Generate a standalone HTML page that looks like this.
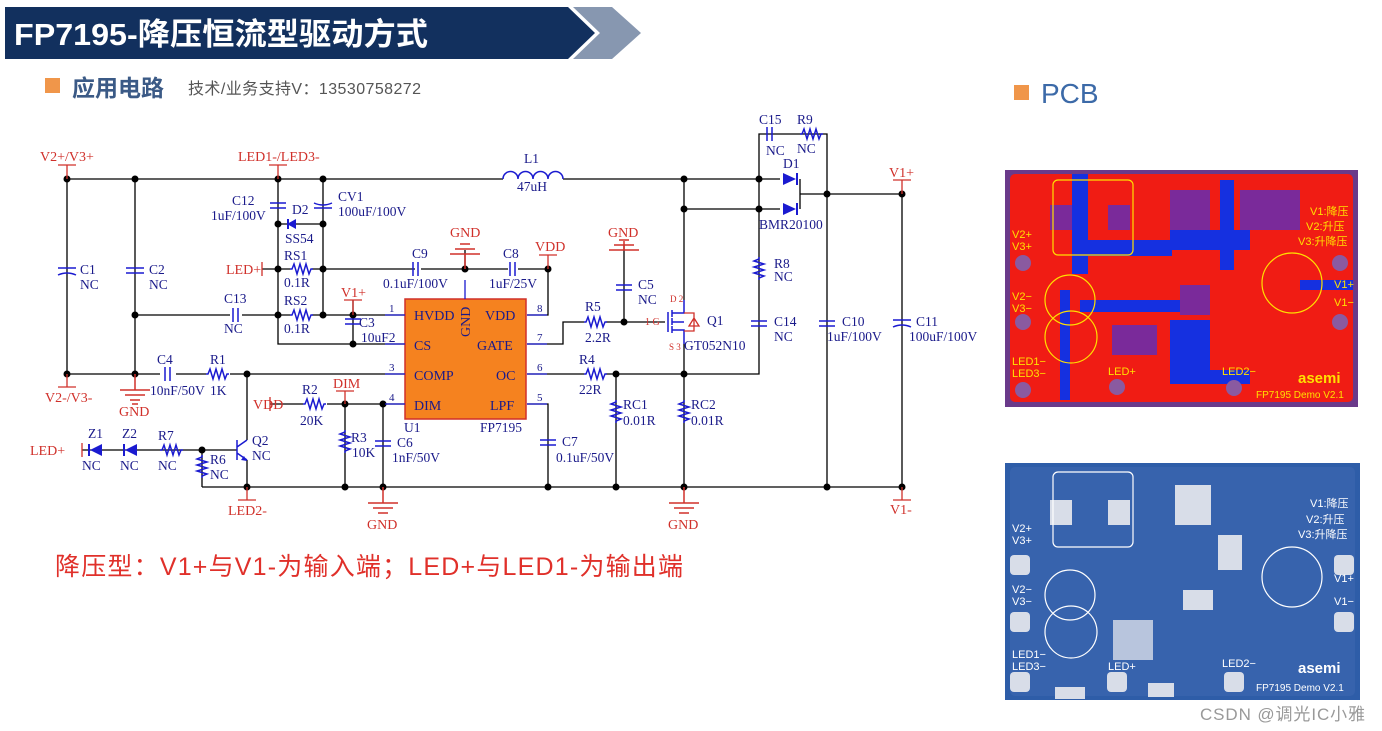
<!DOCTYPE html>
<html><head><meta charset="utf-8"><style>
body{margin:0;width:1382px;height:731px;background:#fff;overflow:hidden;position:relative;font-family:"Liberation Sans","Noto Sans CJK SC",sans-serif}
.a{position:absolute}
</style></head><body>
<svg class="a" style="left:0;top:0" width="1382" height="731">
<polygon points="5,7 568,7 595,33 568,59 5,59" fill="#12305e"/>
<polygon points="573,7 612,7 641,33 612,59 573,59 600,33" fill="#8797b0"/>
<text x="14" y="45" fill="#fff" font-size="31" font-weight="bold" font-family="Liberation Sans,Noto Sans CJK SC,sans-serif" textLength="414" lengthAdjust="spacingAndGlyphs">FP7195-降压恒流型驱动方式</text>
<rect x="45" y="78" width="15" height="15" fill="#f0964a"/>
<text x="72" y="96" fill="#3b5a86" font-size="23" font-weight="bold" font-family="Liberation Sans,Noto Sans CJK SC,sans-serif">应用电路</text>
<text x="188" y="94" fill="#555" font-size="16" font-family="Liberation Sans,Noto Sans CJK SC,sans-serif" textLength="233">技术/业务支持V：13530758272</text>
<rect x="1014" y="85" width="15" height="15" fill="#f0964a"/>
<text x="1041" y="103" fill="#3c6aa8" font-size="28" font-family="Liberation Sans,sans-serif">PCB</text>
<text x="55" y="575" fill="#e0302a" font-size="25" font-family="Liberation Sans,Noto Sans CJK SC,sans-serif" textLength="628">降压型：V1+与V1-为输入端；LED+与LED1-为输出端</text>

<g stroke="#000" stroke-width="1.3" fill="none">
<path d="M67 179 H503 M563 179 H780"/>
<path d="M67 179 V374 M135 179 V374 M67 374 H160 M176 374 H206 M230 374 H405"/>
<path d="M278 179 V344 H405 M323 179 V315 M278 224 H323"/>
<path d="M262 269 H290 M312 269 H415 M421 269 H508 M518 269 H548 V315 H527"/>
<path d="M465 269 V250 M135 315 H230 M242 315 H290 M312 315 H405 M353 300 V344"/>
<path d="M270 404 H303 M327 404 H405 M345 404 V487 M383 404 V487 M202 487 H902"/>
<path d="M247 374 V440 M247 460 V487 M202 450 V487 M82 450 H237"/>
<path d="M527 344 H563 V322 H584 M606 322 H665 M624 322 V245 M684 179 V300 M684 344 V487"/>
<path d="M527 374 H584 M606 374 H759 V209 M616 374 V487 M527 404 H548 V487 M684 209 H780"/>
<path d="M759 209 V134 H827 V487 M800 179 V209 M800 194 H902 V487"/>
</g>
<g fill="#000">
<circle cx="67" cy="179" r="3.5"/><circle cx="135" cy="179" r="3.5"/><circle cx="278" cy="179" r="3.5"/><circle cx="323" cy="179" r="3.5"/>
<circle cx="278" cy="224" r="3.5"/><circle cx="323" cy="224" r="3.5"/><circle cx="278" cy="269" r="3.5"/><circle cx="323" cy="269" r="3.5"/>
<circle cx="465" cy="269" r="3.5"/><circle cx="548" cy="269" r="3.5"/><circle cx="135" cy="315" r="3.5"/><circle cx="278" cy="315" r="3.5"/>
<circle cx="323" cy="315" r="3.5"/><circle cx="353" cy="315" r="3.5"/><circle cx="353" cy="344" r="3.5"/><circle cx="67" cy="374" r="3.5"/>
<circle cx="135" cy="374" r="3.5"/><circle cx="247" cy="374" r="3.5"/><circle cx="345" cy="404" r="3.5"/><circle cx="383" cy="404" r="3.5"/>
<circle cx="202" cy="450" r="3.5"/><circle cx="247" cy="487" r="3.5"/><circle cx="345" cy="487" r="3.5"/><circle cx="383" cy="487" r="3.5"/>
<circle cx="548" cy="487" r="3.5"/><circle cx="616" cy="487" r="3.5"/><circle cx="684" cy="487" r="3.5"/><circle cx="827" cy="487" r="3.5"/><circle cx="902" cy="487" r="3.5"/>
<circle cx="684" cy="179" r="3.5"/><circle cx="759" cy="179" r="3.5"/><circle cx="684" cy="209" r="3.5"/><circle cx="759" cy="209" r="3.5"/>
<circle cx="827" cy="194" r="3.5"/><circle cx="902" cy="194" r="3.5"/><circle cx="624" cy="322" r="3.5"/><circle cx="616" cy="374" r="3.5"/><circle cx="684" cy="374" r="3.5"/>
</g>
<rect x="405" y="299" width="121" height="120" fill="#f5821f" stroke="#d0302a" stroke-width="1.5"/>
<g fill="#1a1a8a" font-family="Liberation Serif,serif" font-size="14">
<text x="414" y="320">HVDD</text><text x="414" y="350">CS</text><text x="414" y="380">COMP</text><text x="414" y="410">DIM</text>
<text x="485" y="320">VDD</text><text x="477" y="350">GATE</text><text x="496" y="380">OC</text><text x="490" y="410">LPF</text>
<text transform="translate(470,337) rotate(-90)">GND</text>
</g>
<g stroke="#1a1ad0" stroke-width="1.5" fill="none">
<path d="M503 179 a7.5 7.5 0 0 1 15 0 a7.5 7.5 0 0 1 15 0 a7.5 7.5 0 0 1 15 0 a7.5 7.5 0 0 1 15 0"/>
<path d="M290 269 h2 l2-5 l3 10 l3-10 l3 10 l3-10 l3 10 l2-5 h2"/>
<path d="M290 315 h2 l2-5 l3 10 l3-10 l3 10 l3-10 l3 10 l2-5 h2"/>
<path d="M206 374 h2 l2-5 l3 10 l3-10 l3 10 l3-10 l3 10 l2-5 h2"/>
<path d="M303 404 h2 l2-5 l3 10 l3-10 l3 10 l3-10 l3 10 l2-5 h2"/>
<path d="M160 450 h2 l2-5 l3 10 l3-10 l3 10 l3-10 l3 10 l2-5 h2"/>
<path d="M584 322 h2 l2-5 l3 10 l3-10 l3 10 l3-10 l3 10 l2-5 h2"/>
<path d="M584 374 h2 l2-5 l3 10 l3-10 l3 10 l3-10 l3 10 l2-5 h2"/>
<path d="M800 134 h2 l2-5 l3 10 l3-10 l3 10 l3-10 l3 10 l2-5 h2"/>
<path d="M202 455 v2 l-5 2 l10 3 l-10 3 l10 3 l-10 3 l10 3 l-5 2 v2"/>
<path d="M345 430 v2 l-5 2 l10 3 l-10 3 l10 3 l-10 3 l10 3 l-5 2 v2"/>
<path d="M616 400 v2 l-5 2 l10 3 l-10 3 l10 3 l-10 3 l10 3 l-5 2 v2"/>
<path d="M684 400 v2 l-5 2 l10 3 l-10 3 l10 3 l-10 3 l10 3 l-5 2 v2"/>
<path d="M759 257 v2 l-5 2 l10 3 l-10 3 l10 3 l-10 3 l10 3 l-5 2 v2"/>
<path d="M413 262 v14 M418 262 v14 M510 262 v14 M515 262 v14 M233 308 v14 M238 308 v14 M165 367 v14 M170 367 v14 M767 127 v14 M772 127 v14"/>
<path d="M270 203 h16 M270 208 h16 M126 268 h18 M126 273 h18 M345 319 h16 M345 324 h16 M375 441 h16 M375 446 h16 M540 440 h16 M540 445 h16 M616 285 h16 M616 290 h16 M751 321 h16 M751 326 h16 M819 321 h16 M819 326 h16"/>
<path d="M58 268 h18 M58 275 q9 -4 18 0 M314 203 q9 4 18 0 M314 208 h18 M893 320 h18 M893 327 q9 -4 18 0"/>
<path d="M237 440 v20 M237 447 l10 -7 M237 453 l10 7"/>
<path d="M668 312 v20 M672 310 v7 M672 318 v7 M672 326 v7 M672 313 h12 V300 M672 330 h12 V344 M672 322 h12"/>
</g>
<g fill="#1a1ad0">
<polygon points="296,219 296,229 287,224"/>
<polygon points="102,444 102,456 90,450"/><polygon points="137,444 137,456 125,450"/>
<polygon points="783,173 783,185 796,179"/><polygon points="783,203 783,215 796,209"/>
<rect x="287" y="219" width="2" height="10"/><rect x="88" y="444" width="2" height="12"/><rect x="123" y="444" width="2" height="12"/>
<rect x="796" y="173" width="2" height="12"/><rect x="796" y="203" width="2" height="12"/>
<polygon points="244,456 247,461 241,460"/>
</g>
<g stroke="#d0302a" stroke-width="1.3" fill="none">
<path d="M684 313 h10 v18 h-10 M694 318 l-5 8 h10 z"/>
<path d="M58 165 h18 M67 165 v14 M58 387 h18 M67 374 v13 M269 165 h18 M278 165 v14 M262 262 v14 M344 300 h18 M353 300 v15 M270 397 v14 M336 391 h18 M345 391 v13 M539 255 h18 M548 255 v14 M238 500 h18 M247 487 v13 M893 180 h18 M902 180 v14 M893 500 h18 M902 487 v13 M82 443 v14"/>
</g>
<g stroke="#d0302a" stroke-width="1.5">
<path d="M135 374 V390 M120 390 h30 M125 395 h20 M130 400 h10 M132 404 h6"/>
<path d="M383 487 V503 M368 503 h30 M373 508 h20 M378 513 h10"/>
<path d="M684 487 V503 M669 503 h30 M674 508 h20 M679 513 h10"/>
<path d="M465 269 V254 M450 254 h30 M455 249 h20 M460 244 h10"/>
<path d="M624 241 V250 M609 250 h30 M614 245 h20 M619 240 h10"/>
</g>
<g fill="#d0302a" font-family="Liberation Serif,serif" font-size="14">
<text x="40" y="161">V2+/V3+</text><text x="238" y="161">LED1-/LED3-</text><text x="45" y="402">V2-/V3-</text>
<text x="119" y="416">GND</text><text x="226" y="274">LED+</text><text x="341" y="297">V1+</text><text x="253" y="409">VDD</text>
<text x="333" y="388">DIM</text><text x="30" y="455">LED+</text><text x="228" y="515">LED2-</text><text x="367" y="529">GND</text>
<text x="450" y="237">GND</text><text x="535" y="251">VDD</text><text x="608" y="237">GND</text><text x="668" y="529">GND</text>
<text x="889" y="177">V1+</text><text x="890" y="514">V1-</text>
<text x="645" y="325" font-size="10">1 G</text><text x="670" y="302" font-size="9">D 2</text><text x="669" y="350" font-size="9">S 3</text>
</g>
<g fill="#1a1a8a" font-family="Liberation Serif,serif" font-size="13.5">
<text x="80" y="274">C1</text><text x="80" y="289">NC</text><text x="149" y="274">C2</text><text x="149" y="289">NC</text>
<text x="232" y="205">C12</text><text x="211" y="220">1uF/100V</text><text x="292" y="214">D2</text><text x="285" y="243">SS54</text>
<text x="338" y="201">CV1</text><text x="338" y="216">100uF/100V</text>
<text x="284" y="260">RS1</text><text x="284" y="287">0.1R</text><text x="284" y="305">RS2</text><text x="284" y="333">0.1R</text>
<text x="224" y="303">C13</text><text x="224" y="333">NC</text><text x="359" y="327">C3</text><text x="361" y="342">10uF2</text>
<text x="412" y="258">C9</text><text x="383" y="288">0.1uF/100V</text><text x="503" y="258">C8</text><text x="489" y="288">1uF/25V</text>
<text x="524" y="163">L1</text><text x="517" y="191">47uH</text>
<text x="157" y="364">C4</text><text x="150" y="395">10nF/50V</text><text x="210" y="364">R1</text><text x="210" y="395">1K</text>
<text x="302" y="394">R2</text><text x="300" y="425">20K</text><text x="351" y="442">R3</text><text x="352" y="457">10K</text>
<text x="397" y="447">C6</text><text x="392" y="462">1nF/50V</text><text x="404" y="432">U1</text><text x="480" y="432">FP7195</text>
<text x="88" y="438">Z1</text><text x="122" y="438">Z2</text><text x="158" y="440">R7</text>
<text x="82" y="470">NC</text><text x="120" y="470">NC</text><text x="158" y="470">NC</text>
<text x="210" y="464">R6</text><text x="210" y="479">NC</text><text x="252" y="445">Q2</text><text x="252" y="460">NC</text>
<text x="585" y="311">R5</text><text x="585" y="342">2.2R</text><text x="579" y="364">R4</text><text x="579" y="394">22R</text>
<text x="638" y="289">C5</text><text x="638" y="304">NC</text><text x="707" y="325">Q1</text><text x="684" y="350">GT052N10</text>
<text x="623" y="409">RC1</text><text x="623" y="425">0.01R</text><text x="691" y="409">RC2</text><text x="691" y="425">0.01R</text>
<text x="562" y="446">C7</text><text x="556" y="462">0.1uF/50V</text>
<text x="759" y="124">C15</text><text x="766" y="155">NC</text><text x="797" y="124">R9</text><text x="797" y="153">NC</text>
<text x="783" y="168">D1</text><text x="759" y="229">BMR20100</text><text x="774" y="268">R8</text><text x="774" y="281">NC</text>
<text x="774" y="326">C14</text><text x="774" y="341">NC</text><text x="842" y="326">C10</text><text x="827" y="341">1uF/100V</text>
<text x="916" y="326">C11</text><text x="909" y="341">100uF/100V</text>
<text x="389" y="312" font-size="11">1</text><text x="389" y="371" font-size="11">3</text><text x="389" y="401" font-size="11">4</text>
<text x="537" y="312" font-size="11">8</text><text x="537" y="341" font-size="11">7</text><text x="537" y="371" font-size="11">6</text><text x="537" y="401" font-size="11">5</text>
</g>
<g stroke="#1a1ad0" stroke-width="1.3"><path d="M385 315 h20 M385 344 h20 M385 374 h20 M385 404 h20 M527 315 h20 M527 344 h20 M527 374 h20 M527 404 h20 M465 280 v19"/></g>

<rect x="1005" y="170" width="353" height="237" fill="#6a3a8a"/>
<rect x="1010" y="174" width="343" height="228" rx="5" fill="#f01c14"/>
<g fill="#1530e0">
<rect x="1072" y="174" width="16" height="100"/><rect x="1072" y="240" width="100" height="16"/><rect x="1170" y="230" width="80" height="20"/>
<rect x="1220" y="180" width="14" height="90"/><rect x="1080" y="300" width="120" height="12"/><rect x="1170" y="320" width="40" height="60"/>
<rect x="1300" y="280" width="53" height="10"/><rect x="1170" y="370" width="80" height="14"/><rect x="1060" y="290" width="10" height="110"/>
</g>
<g fill="#7a2a9a">
<rect x="1050" y="205" width="22" height="25"/><rect x="1108" y="205" width="22" height="25"/><rect x="1170" y="190" width="40" height="40"/>
<rect x="1240" y="190" width="60" height="40"/><rect x="1180" y="285" width="30" height="30"/><rect x="1112" y="325" width="45" height="30"/>
</g>
<g fill="none" stroke="#ffe000" stroke-width="1.2">
<rect x="1053" y="180" width="80" height="75" rx="5"/><circle cx="1070" cy="300" r="25"/><circle cx="1071" cy="337" r="26"/><circle cx="1292" cy="283" r="30"/>
</g>
<g fill="#8a5aa0"><circle cx="1023" cy="263" r="8"/><circle cx="1023" cy="322" r="8"/><circle cx="1023" cy="390" r="8"/><circle cx="1340" cy="263" r="8"/><circle cx="1340" cy="322" r="8"/><circle cx="1117" cy="387" r="8"/><circle cx="1234" cy="388" r="8"/></g>
<g fill="#ffe000" font-size="11" font-family="Liberation Sans,Noto Sans CJK SC,sans-serif">
<text x="1310" y="215">V1:降压</text><text x="1306" y="230">V2:升压</text><text x="1298" y="245">V3:升降压</text>
<text x="1012" y="238">V2+</text><text x="1012" y="250">V3+</text><text x="1012" y="300">V2−</text><text x="1012" y="312">V3−</text>
<text x="1334" y="288">V1+</text><text x="1334" y="306">V1−</text><text x="1012" y="365">LED1−</text><text x="1012" y="377">LED3−</text>
<text x="1108" y="375">LED+</text><text x="1222" y="375">LED2−</text><text x="1256" y="398" font-size="10">FP7195 Demo V2.1</text>
<text x="1298" y="383" font-size="15" font-weight="bold">asemi</text>
</g>
<rect x="1005" y="463" width="355" height="237" fill="#2e5da8"/>
<rect x="1010" y="467" width="345" height="229" rx="5" fill="#3763ad"/>
<g fill="#d8dde8">
<rect x="1050" y="500" width="22" height="25"/><rect x="1108" y="500" width="22" height="25"/><rect x="1175" y="485" width="36" height="40"/>
<rect x="1218" y="535" width="24" height="35"/><rect x="1113" y="620" width="40" height="40" opacity=".8"/><rect x="1183" y="590" width="30" height="20"/>
<rect x="1010" y="555" width="20" height="20" rx="4"/><rect x="1010" y="612" width="20" height="20" rx="4"/><rect x="1010" y="672" width="20" height="20" rx="4"/>
<rect x="1334" y="555" width="20" height="20" rx="4"/><rect x="1334" y="612" width="20" height="20" rx="4"/><rect x="1107" y="672" width="20" height="20" rx="4"/><rect x="1224" y="672" width="20" height="20" rx="4"/>
<rect x="1055" y="687" width="30" height="12"/><rect x="1148" y="683" width="26" height="14"/>
</g>
<g fill="none" stroke="#fff" stroke-width="1.2">
<rect x="1053" y="472" width="80" height="75" rx="5"/><circle cx="1070" cy="595" r="25"/><circle cx="1071" cy="632" r="26"/><circle cx="1292" cy="577" r="30"/>
</g>
<g fill="#fff" font-size="11" font-family="Liberation Sans,Noto Sans CJK SC,sans-serif">
<text x="1310" y="507">V1:降压</text><text x="1306" y="523">V2:升压</text><text x="1298" y="538">V3:升降压</text>
<text x="1012" y="532">V2+</text><text x="1012" y="544">V3+</text><text x="1012" y="593">V2−</text><text x="1012" y="605">V3−</text>
<text x="1334" y="582">V1+</text><text x="1334" y="605">V1−</text><text x="1012" y="658">LED1−</text><text x="1012" y="670">LED3−</text>
<text x="1108" y="670">LED+</text><text x="1222" y="667">LED2−</text><text x="1256" y="691" font-size="10">FP7195 Demo V2.1</text>
<text x="1298" y="673" font-size="15" font-weight="bold">asemi</text>
</g>
<text x="1200" y="720" fill="#999" font-size="17" font-family="Liberation Sans,Noto Sans CJK SC,sans-serif" textLength="165">CSDN @调光IC小雅</text>
</svg>
</body></html>
